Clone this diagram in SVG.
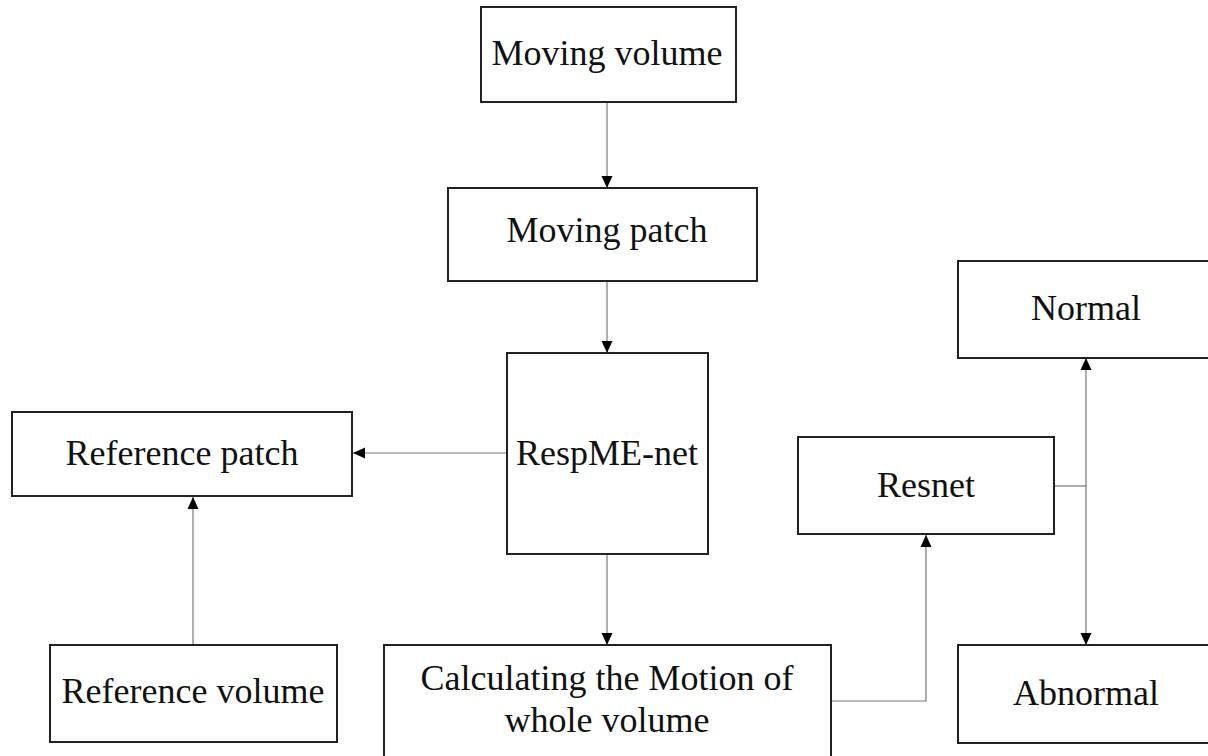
<svg xmlns="http://www.w3.org/2000/svg" width="1208" height="756" viewBox="0 0 1208 756">
<style>
.box{fill:#fff;stroke:#222;stroke-width:2}
.lbl{font-family:"Liberation Serif","Times New Roman",serif;font-size:36px;fill:#111;text-anchor:middle}
.c{fill:none;stroke:#777;stroke-width:1.2}
</style>
<defs>
<marker id="ah" markerUnits="userSpaceOnUse" markerWidth="12" markerHeight="12" refX="12" refY="6" orient="auto-start-reverse" viewBox="0 0 12 12">
<path d="M0,0.5 L12,6 L0,11.5 z" fill="#000"/>
</marker>
</defs>
<rect width="1208" height="756" fill="#fff"/>
<g id="connectors">
<line class="c" x1="607" y1="102" x2="607" y2="188" marker-end="url(#ah)"/>
<line class="c" x1="607" y1="281" x2="607" y2="353" marker-end="url(#ah)"/>
<line class="c" x1="507" y1="453" x2="353" y2="453" marker-end="url(#ah)"/>
<line class="c" x1="193" y1="645" x2="193" y2="497" marker-end="url(#ah)"/>
<line class="c" x1="607" y1="554" x2="607" y2="645" marker-end="url(#ah)"/>
<polyline class="c" points="831,701 926,701 926,535" marker-end="url(#ah)"/>
<line class="c" x1="1054" y1="486" x2="1086" y2="486"/>
<line class="c" x1="1086" y1="358" x2="1086" y2="645" marker-start="url(#ah)" marker-end="url(#ah)"/>
</g>
<g id="moving-volume">
<rect class="box" x="481" y="7" width="255" height="95"/>
<text class="lbl" x="607" y="65">Moving volume</text>
</g>
<g id="moving-patch">
<rect class="box" x="448" y="188" width="309" height="93"/>
<text class="lbl" x="607" y="242">Moving patch</text>
</g>
<g id="respme-net">
<rect class="box" x="507" y="353" width="201" height="201"/>
<text class="lbl" x="607" y="465">RespME-net</text>
</g>
<g id="reference-patch">
<rect class="box" x="12" y="412" width="340" height="84"/>
<text class="lbl" x="182" y="465">Reference patch</text>
</g>
<g id="reference-volume">
<rect class="box" x="50" y="645" width="287" height="97"/>
<text class="lbl" x="193" y="703">Reference volume</text>
</g>
<g id="calculating">
<rect class="box" x="384" y="645" width="447" height="120"/>
<text class="lbl" x="607" y="690">Calculating the Motion of</text>
<text class="lbl" x="607" y="732">whole volume</text>
</g>
<g id="resnet">
<rect class="box" x="798" y="437" width="256" height="97"/>
<text class="lbl" x="926" y="497">Resnet</text>
</g>
<g id="normal">
<rect class="box" x="958" y="261" width="260" height="97"/>
<text class="lbl" x="1086" y="320">Normal</text>
</g>
<g id="abnormal">
<rect class="box" x="958" y="645" width="260" height="98"/>
<text class="lbl" x="1086" y="705">Abnormal</text>
</g>
</svg>
